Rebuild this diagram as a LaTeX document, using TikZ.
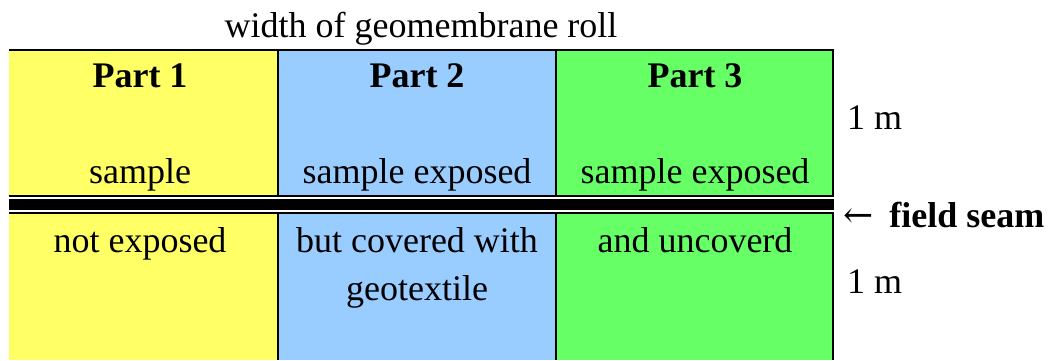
\documentclass[tikz,border=0pt]{standalone}
\usepackage{fontspec}
\setmainfont{Liberation Serif}
\newfontfamily\arrowfont{DejaVu Serif}
\usetikzlibrary{positioning}
\definecolor{partone}{HTML}{FFFF66}
\definecolor{parttwo}{HTML}{99CCFF}
\definecolor{partthree}{HTML}{66FF66}
\begin{document}
\begin{tikzpicture}
	[x=1pt,y=-1pt,
	lbl/.style={anchor=base,inner sep=0pt,font=\fontsize{36}{48}\selectfont},
	head/.style={lbl,font=\fontsize{36}{48}\selectfont\bfseries},
	side/.style={lbl,anchor=base west},
	seam/.style={black,line cap=butt}]
	\useasboundingbox (0,0) rectangle (1050,360);
	%celdas
	\fill[partone] (9,50) rectangle (278,195);
	\fill[parttwo] (278,50) rectangle (556,195);
	\fill[partthree] (556,50) rectangle (834,195);
	\fill[partone] (9,213) rectangle (278,360);
	\fill[parttwo] (278,213) rectangle (556,360);
	\fill[partthree] (556,213) rectangle (834,360);
	%bordes
	\draw[black,line width=2.5pt] (9,50) -- (834,50);
	\draw[black,line width=2.2pt] (278,50) -- (278,196) (278,213) -- (278,360);
	\draw[black,line width=2.2pt] (556,50) -- (556,196) (556,213) -- (556,360);
	\draw[black,line width=2.5pt] (833,50) -- (833,196) (833,213) -- (833,360);
	%costura
	\draw[seam,line width=2.5pt] (9,196) -- (834,196);
	\draw[seam,line width=10.5pt] (9,204.6) -- (834,204.6);
	\draw[seam,line width=2.5pt] (9,213) -- (834,213);
	%textos
	\node (roll) at (421,37) [lbl] {width of geomembrane roll};
	\node (p1) at (140,87) [head] {Part 1};
	\node (p2) at (417,87) [head] {Part 2};
	\node (p3) at (695,87) [head] {Part 3};
	\node (s1) at (140,183) [lbl] {sample};
	\node (s2) at (417,183) [lbl] {sample exposed};
	\node (s3) at (695,183) [lbl] {sample exposed};
	\node (n1) at (140,252) [lbl] {not exposed};
	\node (n2) at (417,252) [lbl] {but covered with};
	\node (n2b) at (417,300) [lbl] {geotextile};
	\node (n3) at (695,252) [lbl] {and uncoverd};
	%medidas
	\node (m1) at (847,129) [side] {1 m};
	\node (fs) at (843,227) [side,font=\fontsize{36}{48}\selectfont\bfseries] {{\arrowfont\mdseries ←}\hspace{7pt} field seam};
	\node (m2) at (847,293) [side] {1 m};
\end{tikzpicture}
\end{document}
